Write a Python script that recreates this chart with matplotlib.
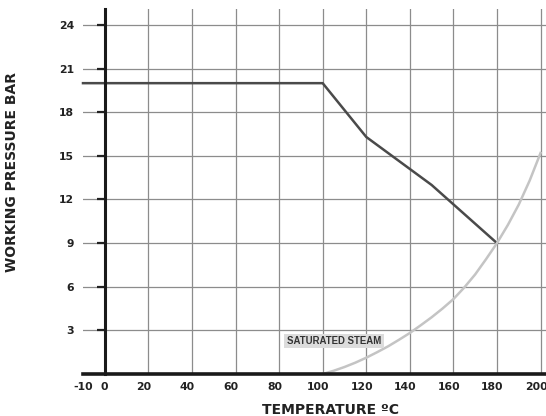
import matplotlib
matplotlib.use("Agg")
import matplotlib.pyplot as plt
import matplotlib.transforms as mtransforms

# Data
limit_temp = [-10, 100, 120, 150, 180]
limit_pressure = [20, 20, 16.3, 13.0, 9.0]

steam_temp = [100, 105, 110, 115, 120, 125, 130, 135, 140, 145, 150,
              155, 160, 165, 170, 175, 180, 185, 190, 195, 200]
steam_pressure = [0, 0.22, 0.48, 0.78, 1.12, 1.5, 1.9, 2.35, 2.82, 3.35, 3.9,
                  4.5, 5.15, 5.95, 6.85, 7.9, 9.0, 10.25, 11.65, 13.3, 15.2]

x_ticks = [-10, 0, 20, 40, 60, 80, 100, 120, 140, 160, 180, 200]
y_ticks = [3, 6, 9, 12, 15, 18, 21, 24]

plt.rcParams['font.family'] = ['DejaVu Sans']
plt.rcParams['font.weight'] = 'bold'

fig = plt.figure(figsize=(5.46, 4.16), dpi=100)
ax = fig.add_axes([83/546, 42/416, 463/546, 365/416])

ax.set_xlim(-10, 202.5)
ax.set_ylim(0, 25.1)

ax.set_xticks(x_ticks)
ax.set_xticklabels([str(v) for v in x_ticks])
ax.set_yticks(y_ticks)
ax.set_yticklabels([str(v) for v in y_ticks])

ax.grid(True, color='#8c8c8c', linewidth=0.9)
ax.set_axisbelow(True)
for i, gl in enumerate(ax.xaxis.get_gridlines()):
    if x_ticks[i] in (-10, 0):
        gl.set_visible(False)

ax.spines['top'].set_visible(False)
ax.spines['right'].set_visible(False)
ax.spines['left'].set_position(('data', 0))
ax.spines['left'].set_linewidth(2.2)
ax.spines['left'].set_color('#1a1a1a')
ax.spines['bottom'].set_linewidth(2.6)
ax.spines['bottom'].set_color('#1a1a1a')
ax.spines['bottom'].set_zorder(5)
ax.spines['left'].set_zorder(5)

ax.tick_params(axis='x', length=0, pad=6, labelsize=7.8, colors='#222222')
ax.tick_params(axis='y', length=6, width=1.6, pad=16, labelsize=7.8,
               colors='#222222', direction='out')

# small leftward offset of x tick labels as in the reference
for v, lab in zip(x_ticks, ax.get_xticklabels()):
    dx = 0 if v == -10 else (-1 if v == 0 else -4.5)
    lab.set_transform(lab.get_transform() +
                      mtransforms.ScaledTranslation(dx / 100, 0, fig.dpi_scale_trans))

ax.plot(limit_temp, limit_pressure, color='#4a4a4a', linewidth=1.8,
        solid_joinstyle='miter', zorder=3, clip_on=False)
ax.plot(steam_temp, steam_pressure, color='#c4c4c4', linewidth=1.8, zorder=3)

ax.text(105.2, 2.27, 'SATURATED STEAM', fontsize=6.9, fontweight='bold',
        family=['Liberation Sans Narrow', 'Liberation Sans'],
        color='#333333', ha='center', va='center', zorder=4,
        bbox=dict(boxstyle='square,pad=0.25', facecolor='#dcdcdc', edgecolor='none'))

ax.set_xlabel('TEMPERATURE ºC', fontsize=10, fontweight='bold', color='#222222')
ax.xaxis.label.set_va('baseline')
ax.xaxis.set_label_coords((331 - 83) / 463, -(414 - 374) / 365)
ax.set_ylabel('WORKING PRESSURE BAR', fontsize=10, fontweight='bold', color='#222222')
ax.yaxis.set_label_coords((19 - 83) / 463, (374 - 172) / 365)

fig.savefig('out.png', dpi=100)
